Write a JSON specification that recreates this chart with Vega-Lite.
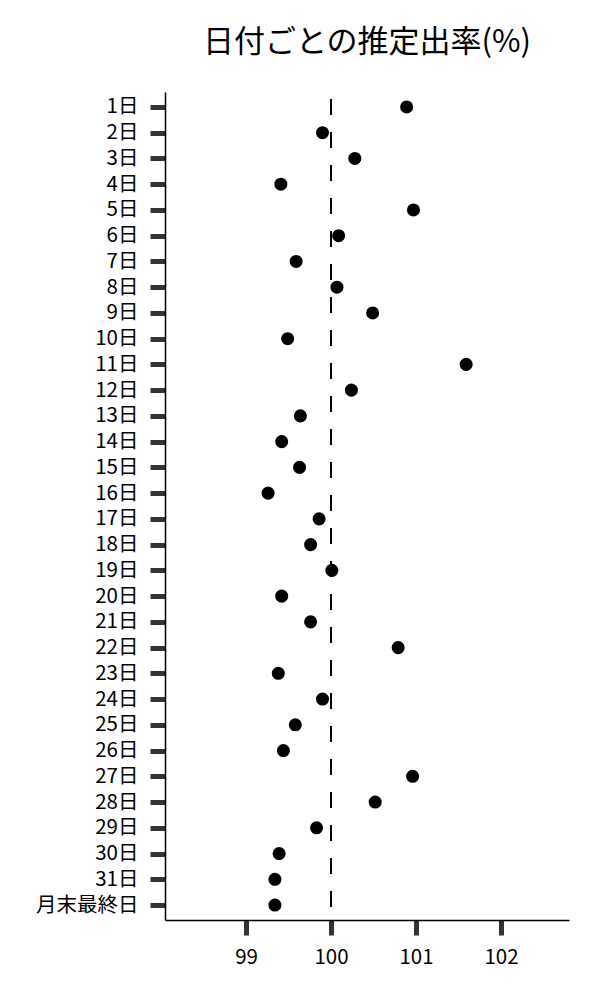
{
  "$schema": "https://vega.github.io/schema/vega-lite/v6.json",
  "autosize": "none",
  "padding": {"left": 165, "top": 92, "right": 31, "bottom": 80},
  "width": 404,
  "height": 828,
  "background": "white",
  "title": {
    "text": "日付ごとの推定出率(%)",
    "font": "Noto Sans CJK JP",
    "fontSize": 31,
    "fontWeight": "normal",
    "color": "black",
    "anchor": "middle",
    "offset": 32
  },
  "data": {
    "values": [
      {"day": "1日", "rate": 100.89},
      {"day": "2日", "rate": 99.9},
      {"day": "3日", "rate": 100.28},
      {"day": "4日", "rate": 99.41},
      {"day": "5日", "rate": 100.97},
      {"day": "6日", "rate": 100.09},
      {"day": "7日", "rate": 99.59},
      {"day": "8日", "rate": 100.07},
      {"day": "9日", "rate": 100.49},
      {"day": "10日", "rate": 99.49},
      {"day": "11日", "rate": 101.59},
      {"day": "12日", "rate": 100.24},
      {"day": "13日", "rate": 99.64},
      {"day": "14日", "rate": 99.42},
      {"day": "15日", "rate": 99.63},
      {"day": "16日", "rate": 99.26},
      {"day": "17日", "rate": 99.86},
      {"day": "18日", "rate": 99.76},
      {"day": "19日", "rate": 100.01},
      {"day": "20日", "rate": 99.42},
      {"day": "21日", "rate": 99.76},
      {"day": "22日", "rate": 100.79},
      {"day": "23日", "rate": 99.38},
      {"day": "24日", "rate": 99.9},
      {"day": "25日", "rate": 99.58},
      {"day": "26日", "rate": 99.44},
      {"day": "27日", "rate": 100.96},
      {"day": "28日", "rate": 100.52},
      {"day": "29日", "rate": 99.83},
      {"day": "30日", "rate": 99.39},
      {"day": "31日", "rate": 99.34},
      {"day": "月末最終日", "rate": 99.34}
    ]
  },
  "layer": [
    {
      "mark": {
        "type": "rule",
        "color": "black",
        "strokeWidth": 2,
        "strokeDash": [16, 17],
        "strokeDashOffset": 26
      },
      "encoding": {
        "x": {"datum": 100, "type": "quantitative"}
      }
    },
    {
      "mark": {"type": "circle", "size": 170, "color": "black", "opacity": 1},
      "encoding": {
        "y": {
          "field": "day",
          "type": "nominal",
          "sort": null,
          "title": null,
          "scale": {"type": "point", "padding": 0.58},
          "axis": {
            "labelFontSize": 20.5,
            "labelPadding": 12
          }
        },
        "x": {
          "field": "rate",
          "type": "quantitative",
          "title": null,
          "scale": {"domain": [98.047, 102.8], "nice": false, "zero": false},
          "axis": {
            "values": [99, 100, 101, 102],
            "format": "d",
            "labelFontSize": 20.5,
            "labelPadding": 12
          }
        }
      }
    }
  ],
  "config": {
    "view": {"stroke": null},
    "font": "Noto Sans CJK JP",
    "axis": {
      "grid": false,
      "domainColor": "black",
      "domainWidth": 1.5,
      "tickColor": "#333",
      "tickWidth": 5,
      "tickSize": 15,
      "labelColor": "black",
      "labelFont": "Noto Sans CJK JP"
    }
  }
}
